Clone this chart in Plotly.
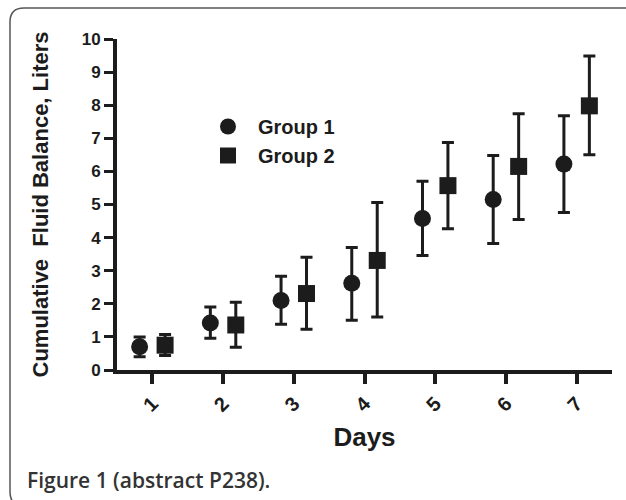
import plotly.graph_objects as go

days = [1, 2, 3, 4, 5, 6, 7]
day_labels = ["1", "2", "3", "4", "5", "6", "7"]

g1_mean = [0.70, 1.42, 2.10, 2.62, 4.58, 5.15, 6.22]
g1_high = [1.00, 1.90, 2.83, 3.70, 5.70, 6.48, 7.68]
g1_low = [0.40, 0.96, 1.38, 1.50, 3.46, 3.82, 4.76]

g2_mean = [0.75, 1.36, 2.31, 3.31, 5.57, 6.15, 7.98]
g2_high = [1.07, 2.05, 3.41, 5.06, 6.87, 7.74, 9.49]
g2_low = [0.44, 0.69, 1.23, 1.60, 4.27, 4.55, 6.50]

W, H = 626, 500
L, R, T, B = 117, 14, 39, 130
ink = "#1c1c1c"
font = "Liberation Sans, Arial, sans-serif"


def px(x):
    return (x - L) / (W - L - R)


def py(y):
    return (H - B - y) / (H - B - T)


def err_bars(mean, high, low):
    return dict(type="data", symmetric=False,
                array=[h - m for h, m in zip(high, mean)],
                arrayminus=[m - l for m, l in zip(mean, low)],
                color=ink, thickness=3, width=6)


fig = go.Figure()
fig.add_trace(go.Scatter(
    x=[d - 0.18 for d in days], y=g1_mean, mode="markers", name="Group 1",
    marker=dict(symbol="circle", size=17, color=ink),
    error_y=err_bars(g1_mean, g1_high, g1_low)))
fig.add_trace(go.Scatter(
    x=[d + 0.18 for d in days], y=g2_mean, mode="markers", name="Group 2",
    marker=dict(symbol="square", size=17, color=ink),
    error_y=err_bars(g2_mean, g2_high, g2_low)))

# rounded frame around the figure panel
r = 14
frame = (f"M {px(640)},{py(8)} L {px(10 + r)},{py(8)} "
         f"Q {px(10)},{py(8)} {px(10)},{py(8 + r)} "
         f"L {px(10)},{py(506 - r)} Q {px(10)},{py(506)} {px(10 + r)},{py(506)} "
         f"L {px(640)},{py(506)}")

fig.update_layout(
    width=W, height=H,
    margin=dict(l=L, r=R, t=T, b=B),
    paper_bgcolor="white", plot_bgcolor="white",
    font=dict(family=font, color=ink),
    showlegend=True,
    legend=dict(x=px(198), y=py(107), xanchor="left", yanchor="top",
                bgcolor="rgba(0,0,0,0)", itemwidth=50,
                font=dict(size=20, weight="bold", family=font, color=ink)),
    xaxis=dict(range=[0.5, 7.5], tickvals=days, ticktext=day_labels,
               tickangle=-45, showgrid=False, zeroline=False,
               showline=True, linewidth=4, linecolor=ink,
               ticks="outside", ticklen=10, tickwidth=4, tickcolor=ink,
               tickfont=dict(size=20, weight="bold", family=font, color=ink),
               title=dict(text="Days", standoff=14,
                          font=dict(size=26, weight="bold", family=font, color=ink))),
    yaxis=dict(range=[0, 10], tickvals=list(range(0, 11)),
               showgrid=False, zeroline=False,
               showline=True, linewidth=4, linecolor=ink,
               ticks="outside", ticklen=9, tickwidth=3, tickcolor=ink,
               tickfont=dict(size=17, weight="bold", family=font, color=ink),
               title=dict(text="Cumulative  Fluid Balance, Liters", standoff=28,
                          font=dict(size=22, weight="bold", family=font, color=ink))),
    shapes=[dict(type="path", xref="paper", yref="paper", path=frame,
                 line=dict(color="#555555", width=1.5), layer="below")],
    annotations=[dict(text="Figure 1 (abstract P238).", xref="paper", yref="paper",
                      x=px(25), y=py(480), xanchor="left", yanchor="middle",
                      showarrow=False,
                      font=dict(size=21, weight=600, family="Open Sans, sans-serif",
                                color="#333333"))],
)

# drop the page's default 8px body margin so the figure sits at the top-left corner
fig.write_html("out.html", config={"displayModeBar": False},
               post_script="document.body.style.margin='0';")
